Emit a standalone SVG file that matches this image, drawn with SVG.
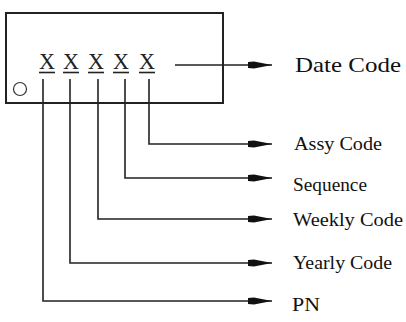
<svg xmlns="http://www.w3.org/2000/svg" width="406" height="322" viewBox="0 0 406 322">
  <style>
    .frame { fill: none; stroke: #222; stroke-width: 2; }
    .wire { fill: none; stroke: #222; stroke-width: 1.6; }
    .digit { font-family: "Liberation Serif", "Times New Roman", serif; font-size: 23px; fill: #222; text-anchor: middle; }
    .label { font-family: "Liberation Serif", "Times New Roman", serif; fill: #111; }
  </style>
  <defs>
    <marker id="arrow" viewBox="0 0 24 8" refX="24" refY="4" markerWidth="24" markerHeight="8" markerUnits="userSpaceOnUse" orient="auto">
      <path d="M0,1 L6,0.6 L24,4 L6,7.4 L0,7 Z" fill="#111"/>
    </marker>
  </defs>

  <!-- package outline with pin-1 mark -->
  <g id="package">
    <rect class="frame" x="6" y="13" width="217" height="90"/>
    <circle cx="20" cy="89" r="6.5" fill="none" stroke="#333" stroke-width="1.2"/>
  </g>

  <!-- marking characters -->
  <g id="marking">
    <text class="digit" x="47" y="69" textLength="16" lengthAdjust="spacingAndGlyphs">X</text>
    <text class="digit" x="71" y="69" textLength="16" lengthAdjust="spacingAndGlyphs">X</text>
    <text class="digit" x="96" y="69" textLength="16" lengthAdjust="spacingAndGlyphs">X</text>
    <text class="digit" x="121" y="69" textLength="16" lengthAdjust="spacingAndGlyphs">X</text>
    <text class="digit" x="147" y="69" textLength="16" lengthAdjust="spacingAndGlyphs">X</text>
    <g class="wire">
      <line x1="39" y1="72.5" x2="55" y2="72.5"/>
      <line x1="63" y1="72.5" x2="79" y2="72.5"/>
      <line x1="88" y1="72.5" x2="104" y2="72.5"/>
      <line x1="113" y1="72.5" x2="129" y2="72.5"/>
      <line x1="139" y1="72.5" x2="155" y2="72.5"/>
    </g>
  </g>

  <!-- leader lines -->
  <g id="connectors" class="wire">
    <line x1="175" y1="65" x2="272" y2="65" marker-end="url(#arrow)"/>
    <polyline points="149,79 149,144 272,144" marker-end="url(#arrow)"/>
    <polyline points="125,79 125,178 272,178" marker-end="url(#arrow)"/>
    <polyline points="98,79 98,219 272,219" marker-end="url(#arrow)"/>
    <polyline points="70,79 70,263 272,263" marker-end="url(#arrow)"/>
    <polyline points="43,79 43,301 272,301" marker-end="url(#arrow)"/>
  </g>

  <!-- field names -->
  <g id="date-code"><text class="label" x="295" y="72" font-size="21" textLength="106" lengthAdjust="spacingAndGlyphs">Date Code</text></g>
  <g id="assy-code"><text class="label" x="294" y="150" font-size="18" textLength="88" lengthAdjust="spacingAndGlyphs">Assy Code</text></g>
  <g id="sequence"><text class="label" x="293" y="191" font-size="18" textLength="74" lengthAdjust="spacingAndGlyphs">Sequence</text></g>
  <g id="weekly-code"><text class="label" x="293" y="226" font-size="18" textLength="110" lengthAdjust="spacingAndGlyphs">Weekly Code</text></g>
  <g id="yearly-code"><text class="label" x="293" y="269" font-size="18" textLength="99" lengthAdjust="spacingAndGlyphs">Yearly Code</text></g>
  <g id="pn"><text class="label" x="292" y="311" font-size="18" textLength="28" lengthAdjust="spacingAndGlyphs">PN</text></g>
</svg>
